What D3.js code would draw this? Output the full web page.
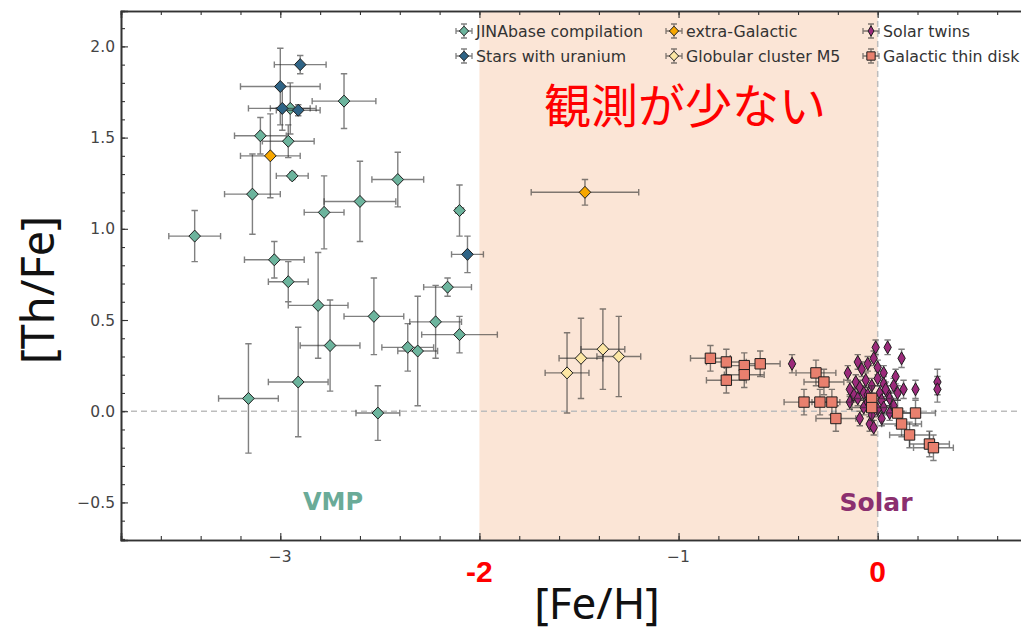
<!DOCTYPE html>
<html>
<head>
<meta charset="utf-8">
<script src="https://cdn.jsdelivr.net/npm/d3@7"></script>
<style>
  body { margin: 0; background: #fff; }
  svg { display: block; }
</style>
</head>
<body>
<div id="chart"></div>
<script>
// each row: [Fe/H], [Th/Fe], error in Fe/H, error in Th/Fe
var jinabase = [
  [-3.43, 0.96, 0.13, 0.14], [-3.14, 1.19, 0.14, 0.22], [-3.10, 1.51, 0.13, 0.10],
  [-2.96, 1.48, 0.13, 0.09], [-2.94, 1.29, 0.08, 0.02], [-2.95, 1.66, 0.10, 0.14],
  [-2.68, 1.70, 0.16, 0.15], [-2.41, 1.27, 0.13, 0.15], [-2.60, 1.15, 0.18, 0.22],
  [-2.78, 1.09, 0.10, 0.20], [-2.10, 1.10, 0.02, 0.14], [-3.03, 0.83, 0.15, 0.10],
  [-2.96, 0.71, 0.10, 0.11], [-2.81, 0.58, 0.15, 0.29], [-2.53, 0.52, 0.15, 0.21],
  [-2.75, 0.36, 0.15, 0.25], [-2.91, 0.16, 0.15, 0.30], [-3.16, 0.07, 0.15, 0.30],
  [-2.51, -0.01, 0.11, 0.15], [-2.36, 0.35, 0.13, 0.13], [-2.31, 0.33, 0.10, 0.30],
  [-2.22, 0.49, 0.13, 0.20], [-2.16, 0.68, 0.12, 0.05], [-2.10, 0.42, 0.19, 0.10]
];
var uranium = [
  [-2.90, 1.90, 0.13, 0.05], [-3.00, 1.78, 0.20, 0.21], [-2.99, 1.66, 0.17, 0.12],
  [-2.91, 1.65, 0.11, 0.03], [-2.06, 0.86, 0.08, 0.10]
];
var extraGalactic = [
  [-3.05, 1.40, 0.15, 0.23], [-1.47, 1.20, 0.27, 0.07]
];
var clusterM5 = [
  [-1.56, 0.21, 0.11, 0.22], [-1.49, 0.29, 0.11, 0.22],
  [-1.38, 0.34, 0.11, 0.22], [-1.30, 0.30, 0.11, 0.22]
];
var solarTwins = [
  [-0.01, 0.35, 0.01, 0.04], [0.05, 0.35, 0.01, 0.04], [-0.02, 0.29, 0.01, 0.04],
  [-0.10, 0.27, 0.01, 0.04], [-0.05, 0.26, 0.01, 0.04], [0.12, 0.29, 0.01, 0.05],
  [0.00, 0.24, 0.01, 0.04], [-0.15, 0.21, 0.01, 0.04], [-0.08, 0.23, 0.01, 0.04],
  [0.03, 0.21, 0.01, 0.04], [-0.11, 0.16, 0.01, 0.04], [-0.06, 0.17, 0.01, 0.04],
  [0.00, 0.18, 0.01, 0.04], [0.09, 0.19, 0.01, 0.04], [-0.03, 0.14, 0.01, 0.04],
  [0.03, 0.15, 0.01, 0.04], [0.08, 0.14, 0.01, 0.04], [-0.09, 0.13, 0.01, 0.04],
  [-0.12, 0.09, 0.01, 0.04], [-0.07, 0.10, 0.01, 0.04], [0.01, 0.10, 0.01, 0.04],
  [0.05, 0.10, 0.01, 0.04], [0.10, 0.10, 0.01, 0.04], [0.13, 0.12, 0.01, 0.05],
  [0.19, 0.12, 0.01, 0.05], [0.30, 0.16, 0.01, 0.07], [0.30, 0.12, 0.01, 0.07],
  [-0.14, 0.05, 0.01, 0.04], [-0.10, 0.07, 0.01, 0.04], [0.02, 0.06, 0.01, 0.04],
  [0.06, 0.07, 0.01, 0.04], [-0.02, 0.02, 0.01, 0.04], [0.03, 0.02, 0.01, 0.04],
  [0.08, 0.03, 0.01, 0.04], [-0.07, 0.02, 0.01, 0.04], [-0.03, -0.02, 0.01, 0.04],
  [0.02, -0.04, 0.01, 0.04], [0.06, -0.01, 0.01, 0.04], [-0.04, -0.07, 0.01, 0.04],
  [-0.09, -0.04, 0.01, 0.04], [-0.02, -0.09, 0.01, 0.04], [0.00, 0.01, 0.01, 0.04],
  [-0.05, 0.05, 0.01, 0.04], [-0.05, 0.09, 0.01, 0.04], [0.04, 0.12, 0.01, 0.04],
  [-0.14, 0.12, 0.01, 0.04], [-0.43, 0.26, 0.01, 0.05]
];
var thinDisk = [
  [-0.84, 0.29, 0.10, 0.07], [-0.76, 0.27, 0.10, 0.07], [-0.67, 0.25, 0.10, 0.07],
  [-0.59, 0.26, 0.10, 0.07], [-0.76, 0.17, 0.10, 0.07], [-0.67, 0.20, 0.10, 0.07],
  [-0.31, 0.21, 0.10, 0.07], [-0.27, 0.16, 0.10, 0.07], [-0.37, 0.05, 0.10, 0.07],
  [-0.29, 0.05, 0.10, 0.07], [-0.23, 0.05, 0.10, 0.07], [-0.21, -0.04, 0.10, 0.07],
  [-0.03, 0.07, 0.10, 0.07], [-0.03, 0.02, 0.10, 0.07], [0.10, -0.01, 0.10, 0.07],
  [0.19, -0.01, 0.10, 0.07], [0.12, -0.07, 0.10, 0.07], [0.16, -0.13, 0.10, 0.07],
  [0.26, -0.18, 0.10, 0.07], [0.28, -0.20, 0.10, 0.07]
];

var seriesNames = ["JINAbase compilation", "Stars with uranium", "extra-Galactic",
                   "Globular cluster M5", "Solar twins", "Galactic thin disk"];
var xMajorTicks = [-3, -2, -1, 0];
var xShownLabels = [-3, -1];
var yMajorTicks = [-0.5, 0.0, 0.5, 1.0, 1.5, 2.0];
var highlightTicks = [-2, 0];
var sparseRange = [-2, 0];

var width = 1021, height = 631;
var pLeft = 121, pTop = 11, pBottom = 540, pRight = 1033;

var series = [
  { name: seriesNames[0], data: jinabase, fill: "#6cb49d", shape: "D" },
  { name: seriesNames[1], data: uranium, fill: "#2f6486", shape: "D" },
  { name: seriesNames[2], data: extraGalactic, fill: "#f7a700", shape: "D" },
  { name: seriesNames[3], data: clusterM5, fill: "#fde7a4", shape: "D" },
  { name: seriesNames[4], data: solarTwins, fill: "#9b2a7b", shape: "d" },
  { name: seriesNames[5], data: thinDisk, fill: "#e9806e", shape: "s" }
];

var x = d3.scaleLinear().domain([-3.8, 0.78]).range([pLeft, pRight]);
var y = d3.scaleLinear().domain([-0.706, 2.194]).range([pBottom, pTop]);

var svg = d3.select('#chart')
  .append('svg')
  .attr('width', width)
  .attr('height', height)
  .style('font-family', 'DejaVu Sans, sans-serif');

svg.append('defs').append('clipPath').attr('id', 'plotclip')
  .append('rect').attr('x', pLeft).attr('y', pTop)
  .attr('width', pRight - pLeft).attr('height', pBottom - pTop);

var plot = svg.append('g').attr('clip-path', 'url(#plotclip)');

// shaded region where few stars are observed
plot.append('rect')
  .attr('x', x(sparseRange[0]))
  .attr('y', pTop)
  .attr('width', x(sparseRange[1]) - x(sparseRange[0]))
  .attr('height', pBottom - pTop)
  .attr('fill', '#fbe5d6');

// reference lines
plot.append('line')
  .attr('x1', pLeft).attr('x2', pRight)
  .attr('y1', y(0)).attr('y2', y(0))
  .attr('stroke', '#bdbdbd').attr('stroke-width', 1.5)
  .attr('stroke-dasharray', '6,4');
plot.append('line')
  .attr('x1', x(0)).attr('x2', x(0))
  .attr('y1', pTop).attr('y2', pBottom)
  .attr('stroke', '#bdbdbd').attr('stroke-width', 1.5)
  .attr('stroke-dasharray', '6,4');

// marker paths
function markerPath(shape, k) {
  k = k || 1;
  if (shape === "s") return "M" + (-5.2 * k) + "," + (-5.2 * k) + "h" + (10.4 * k) + "v" + (10.4 * k) + "h" + (-10.4 * k) + "Z";
  if (shape === "d") return "M0," + (-6.5 * k) + "L" + (3.7 * k) + ",0L0," + (6.5 * k) + "L" + (-3.7 * k) + ",0Z";
  return "M0," + (-6 * k) + "L" + (5.8 * k) + ",0L0," + (6 * k) + "L" + (-5.8 * k) + ",0Z";
}

function drawErrors(g, d) {
  var cx = x(d[0]), cy = y(d[1]);
  var x0 = x(d[0] - d[2]), x1 = x(d[0] + d[2]);
  var y0 = y(d[1] - d[3]), y1 = y(d[1] + d[3]);
  var cap = 3.2;
  var p = "M" + x0 + "," + cy + "H" + x1 +
          "M" + cx + "," + y0 + "V" + y1 +
          "M" + x0 + "," + (cy - cap) + "V" + (cy + cap) +
          "M" + x1 + "," + (cy - cap) + "V" + (cy + cap) +
          "M" + (cx - cap) + "," + y0 + "H" + (cx + cap) +
          "M" + (cx - cap) + "," + y1 + "H" + (cx + cap);
  g.append('path')
    .attr('d', p)
    .attr('fill', 'none')
    .attr('stroke', '#2b2b2b')
    .attr('stroke-opacity', 0.6)
    .attr('stroke-width', 1.4);
}

series.forEach(function (s) {
  var g = plot.append('g').attr('class', 'series');
  s.data.forEach(function (d) { drawErrors(g, d); });
  g.selectAll('path.mark')
    .data(s.data)
    .enter().append('path')
    .attr('class', 'mark')
    .attr('d', markerPath(s.shape))
    .attr('transform', function (d) { return "translate(" + x(d[0]) + "," + y(d[1]) + ")"; })
    .attr('fill', s.fill)
    .attr('stroke', '#1e1e1e')
    .attr('stroke-width', 1);
});

// axes: ticks point inward on all sides
var xMinor = d3.range(-38, 8, 2).map(function (v) { return v / 10; });
var yMinor = d3.range(-7, 22, 1).map(function (v) { return v / 10; });

function fmtMinus(v, dec) {
  return d3.format("." + dec + "f")(v).replace("-", "\u2212");
}

var axisCol = "#333";
var xBottom = svg.append('g').attr('transform', 'translate(0,' + pBottom + ')')
  .call(d3.axisTop(x).tickValues(xMajorTicks).tickSize(7).tickFormat(''));
var xBottomMinor = svg.append('g').attr('transform', 'translate(0,' + pBottom + ')')
  .call(d3.axisTop(x).tickValues(xMinor).tickSize(4).tickFormat(''));
var xTop = svg.append('g').attr('transform', 'translate(0,' + pTop + ')')
  .call(d3.axisBottom(x).tickValues(xMajorTicks).tickSize(7).tickFormat(''));
var xTopMinor = svg.append('g').attr('transform', 'translate(0,' + pTop + ')')
  .call(d3.axisBottom(x).tickValues(xMinor).tickSize(4).tickFormat(''));
var yLeft = svg.append('g').attr('transform', 'translate(' + pLeft + ',0)')
  .call(d3.axisRight(y).tickValues(yMajorTicks).tickSize(7).tickFormat(''));
var yLeftMinor = svg.append('g').attr('transform', 'translate(' + pLeft + ',0)')
  .call(d3.axisRight(y).tickValues(yMinor).tickSize(4).tickFormat(''));

[xBottom, xBottomMinor, xTop, xTopMinor, yLeft, yLeftMinor].forEach(function (a) {
  a.select('.domain').attr('stroke', axisCol).attr('stroke-width', 1.6);
  a.selectAll('.tick line').attr('stroke', axisCol).attr('stroke-width', 1.1);
});

// tick labels
svg.append('g').selectAll('text')
  .data(xShownLabels)
  .enter().append('text')
  .attr('x', function (d) { return x(d); })
  .attr('y', pBottom + 22)
  .attr('text-anchor', 'middle')
  .attr('font-size', 15.5)
  .attr('fill', '#444')
  .text(function (d) { return fmtMinus(d, 0); });

svg.append('g').selectAll('text')
  .data(yMajorTicks)
  .enter().append('text')
  .attr('x', pLeft - 6)
  .attr('y', function (d) { return y(d) + 5.5; })
  .attr('text-anchor', 'end')
  .attr('font-size', 15.5)
  .attr('fill', '#444')
  .text(function (d) { return fmtMinus(d, 1); });

// highlighted red ticks
svg.append('g').selectAll('text')
  .data(highlightTicks)
  .enter().append('text')
  .attr('x', function (d) { return x(d); })
  .attr('y', 582)
  .attr('text-anchor', 'middle')
  .attr('font-family', 'Liberation Sans, Arial, sans-serif')
  .attr('font-weight', 'bold')
  .attr('font-size', 30)
  .attr('fill', '#ff0000')
  .text(function (d) { return d; });

// axis titles
svg.append('text')
  .attr('x', 597).attr('y', 619)
  .attr('text-anchor', 'middle')
  .attr('font-family', 'Noto Sans, sans-serif')
  .attr('font-size', 44)
  .attr('fill', '#111')
  .text('[Fe/H]');
svg.append('text')
  .attr('transform', 'translate(54,290) rotate(-90)')
  .attr('text-anchor', 'middle')
  .attr('font-family', 'Noto Sans, sans-serif')
  .attr('font-size', 45)
  .attr('fill', '#111')
  .text('[Th/Fe]');

// annotations
svg.append('text')
  .attr('x', 685).attr('y', 123)
  .attr('text-anchor', 'middle')
  .attr('font-family', 'Noto Sans CJK JP, sans-serif')
  .attr('font-size', 47)
  .attr('fill', '#ff0000')
  .text('観測が少ない');
svg.append('text')
  .attr('x', 333).attr('y', 510)
  .attr('text-anchor', 'middle')
  .attr('font-weight', 'bold')
  .attr('font-size', 24)
  .attr('fill', '#6aab98')
  .text('VMP');
svg.append('text')
  .attr('x', 876).attr('y', 511)
  .attr('text-anchor', 'middle')
  .attr('font-weight', 'bold')
  .attr('font-size', 25)
  .attr('fill', '#8b2f6f')
  .text('Solar');

// legend: 3 columns x 2 rows
var legendCols = [464, 674, 871];
var legendRows = [31, 56];
var legend = svg.append('g');
series.forEach(function (s, i) {
  var lx = legendCols[Math.floor(i / 2)];
  var ly = legendRows[i % 2];
  var g = legend.append('g').attr('transform', 'translate(' + lx + ',' + ly + ')');
  g.append('path')
    .attr('d', 'M-8,0H8M-8,-3V3M8,-3V3M0,-7V7M-3,-7H3M-3,7H3')
    .attr('fill', 'none')
    .attr('stroke', '#2b2b2b')
    .attr('stroke-opacity', 0.6)
    .attr('stroke-width', 1.3);
  g.append('path')
    .attr('d', markerPath(s.shape, 0.8))
    .attr('fill', s.fill)
    .attr('stroke', '#1e1e1e')
    .attr('stroke-width', 1);
  g.append('text')
    .attr('x', 12).attr('y', 5.5)
    .attr('font-size', 15.8)
    .attr('fill', '#333')
    .text(s.name);
});
</script>
</body>
</html>
